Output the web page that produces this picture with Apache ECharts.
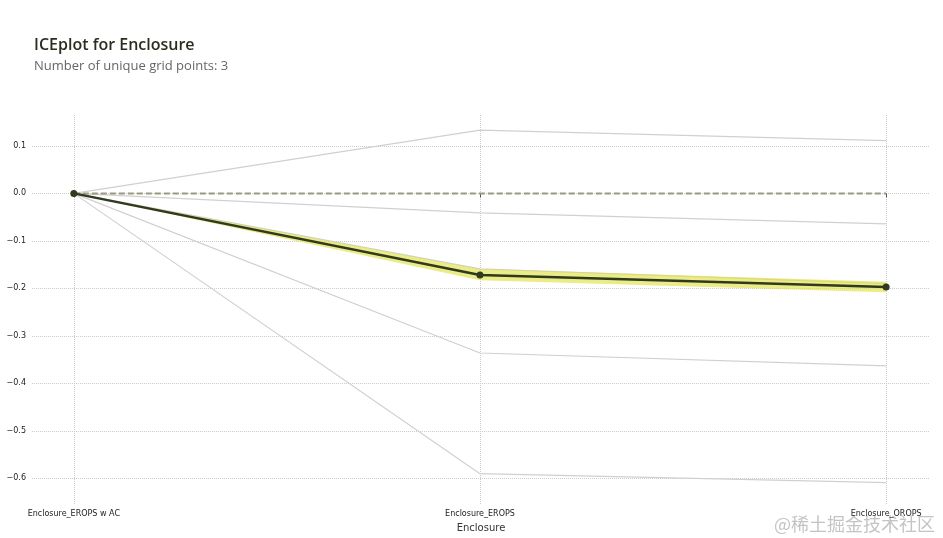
<!DOCTYPE html>
<html>
<head>
<meta charset="utf-8">
<title>ICEplot for Enclosure</title>
<script src="https://cdn.jsdelivr.net/npm/echarts@6/dist/echarts.min.js"></script>
<style>
html, body { margin: 0; padding: 0; background: #fff; }
#main { width: 943px; height: 538px; }
</style>
</head>
<body>
<div id="main"></div>
<script>
// grid points on x (positions 0,1,2)
var categories = ['Enclosure_EROPS w AC', 'Enclosure_EROPS', 'Enclosure_OROPS'];
var yTicks = [-0.6, -0.5, -0.4, -0.3, -0.2, -0.1, 0.0, 0.1];

// individual ICE lines
var ice1 = [0, 0.133, 0.111];
var ice2 = [0, -0.041, -0.064];
var ice3 = [0, -0.159, -0.190];
var ice4 = [0, -0.336, -0.363];
var ice5 = [0, -0.590, -0.609];

// average line and its band
var pdp = [0, -0.172, -0.197];
var bandLower = [0, -0.183, -0.208];
var bandUpper = [0, -0.159, -0.186];
var zeroLine = [0, 0, 0];

function pts (arr) {
  return arr.map(function (v, i) { return [i, v] })
}

// one band segment per pair of grid points
var bandSegs = [];
for (var i = 0; i < pdp.length - 1; i++) {
  bandSegs.push([i, bandLower[i], bandUpper[i], bandLower[i + 1], bandUpper[i + 1]]);
}

var chart = echarts.init(document.getElementById('main'));

var iceLines = [ice1, ice2, ice3, ice4, ice5].map(function (d, k) {
  return {
    name: 'ice' + k,
    type: 'line',
    data: pts(d),
    symbol: 'none',
    lineStyle: { color: '#d0d0d0', width: 1.2 },
    z: 2,
    silent: true
  }
})

var option = {
  animation: false,
  title: {
    text: 'ICEplot for Enclosure',
    subtext: 'Number of unique grid points: 3',
    left: 29,
    top: 32,
    itemGap: 7,
    textStyle: { fontFamily: 'Open Sans', fontSize: 16, fontWeight: 600, color: '#2b2e1e' },
    subtextStyle: { fontFamily: 'Open Sans', fontSize: 13, color: '#666' }
  },
  grid: { left: 32, right: 13, top: 115, bottom: 33 },
  xAxis: {
    type: 'value',
    min: -0.103,
    max: 2.108,
    name: 'Enclosure',
    nameLocation: 'middle',
    nameGap: 18,
    nameTextStyle: { fontFamily: 'DejaVu Sans', fontSize: 10, color: '#333' },
    axisLine: { show: false },
    axisTick: { show: true, customValues: [0, 1, 2], length: 4, lineStyle: { color: '#555' } },
    axisLabel: {
      customValues: [0, 1, 2],
      fontFamily: 'DejaVu Sans',
      fontSize: 8,
      color: '#222',
      margin: 5,
      formatter: function (v) { return categories[Math.round(v)] }
    },
    splitLine: { show: true, lineStyle: { color: '#cccccc', type: 'dotted', width: 1 } }
  },
  yAxis: {
    type: 'value',
    min: -0.656,
    max: 0.165,
    axisLine: { show: false },
    axisTick: { show: false, customValues: yTicks },
    axisLabel: {
      customValues: yTicks,
      fontFamily: 'DejaVu Sans',
      fontSize: 8,
      color: '#222',
      margin: 6,
      formatter: function (v) { return v.toFixed(1).replace('-', '\u2212').replace('\u22120.0', '0.0') }
    },
    splitLine: { show: true, lineStyle: { color: '#cccccc', type: 'dotted', width: 1 } }
  },
  graphic: [{
    type: 'text',
    right: 8,
    bottom: 5,
    style: {
      text: '@稀土掘金技术社区',
      font: '18px "Noto Sans CJK SC"',
      fill: '#c4c4c4'
    }
  }],
  series: iceLines.concat([
    {
      name: 'band',
      type: 'custom',
      data: bandSegs,
      encode: { x: 0, y: [1, 2, 3, 4] },
      renderItem: function (params, api) {
        var x0 = api.value(0);
        var a = api.coord([x0, api.value(1)]);
        var b = api.coord([x0, api.value(2)]);
        var c = api.coord([x0 + 1, api.value(4)]);
        var d = api.coord([x0 + 1, api.value(3)]);
        return {
          type: 'polygon',
          shape: { points: [a, b, c, d] },
          style: { fill: 'rgba(225, 225, 70, 0.65)' }
        }
      },
      z: 3,
      silent: true
    },
    {
      name: 'zero',
      type: 'line',
      data: pts(zeroLine),
      symbol: 'none',
      lineStyle: { color: '#9a9a7e', width: 2, type: [6, 3] },
      z: 4
    },
    {
      name: 'pdp',
      type: 'line',
      data: pts(pdp),
      symbol: 'circle',
      symbolSize: 7,
      itemStyle: { color: '#2f3a1e' },
      lineStyle: { color: '#2f3a1e', width: 2.5 },
      z: 5
    }
  ])
};

chart.setOption(option);
</script>
</body>
</html>
